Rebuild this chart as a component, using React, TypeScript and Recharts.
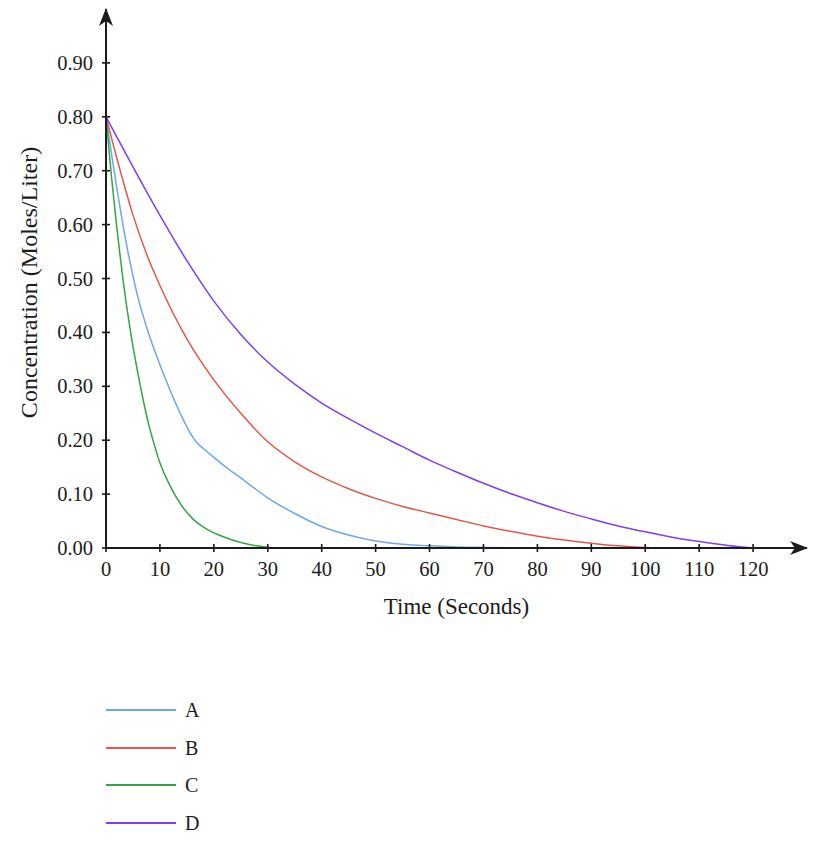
import React from 'react';
import { LineChart, Line, XAxis, YAxis, Legend } from 'recharts';

// [time (s), concentration (mol/L)]
const seriesA: [number, number][] = [
  [0, 0.8], [1, 0.733], [2, 0.668], [3, 0.608], [4, 0.553], [5, 0.505], [6, 0.462],
  [7, 0.427], [8, 0.395], [10, 0.34], [12, 0.29], [14, 0.245], [16, 0.207],
  [17, 0.194], [18, 0.185], [20, 0.168], [22.5, 0.148], [25, 0.13], [27.5, 0.111],
  [30, 0.093], [35, 0.064], [40, 0.04], [45, 0.024], [50, 0.013], [55, 0.007],
  [60, 0.004], [65, 0.002], [70, 0.001], [78, 0],
];
const seriesB: [number, number][] = [
  [0, 0.8], [2.5, 0.705], [5, 0.618], [7.5, 0.546], [10, 0.487], [15, 0.388],
  [20, 0.312], [25, 0.25], [30, 0.197], [35, 0.16], [40, 0.132], [45, 0.11],
  [50, 0.092], [55, 0.077], [60, 0.065], [65, 0.053], [70, 0.041], [75, 0.031],
  [80, 0.022], [85, 0.015], [90, 0.009], [95, 0.004], [100, 0.001], [103, 0],
];
const seriesC: [number, number][] = [
  [0, 0.8], [1, 0.69], [2, 0.595], [3, 0.51], [4, 0.437], [5, 0.374], [6, 0.32],
  [7, 0.27], [8, 0.226], [9, 0.19], [10, 0.158], [12, 0.113], [14, 0.079],
  [16, 0.055], [18, 0.039], [20, 0.028], [22, 0.02], [24, 0.013], [26, 0.008],
  [28, 0.004], [30, 0.0015], [32, 0],
];
const seriesD: [number, number][] = [
  [0, 0.8], [5, 0.707], [10, 0.617], [15, 0.533], [20, 0.458], [25, 0.396],
  [30, 0.345], [35, 0.304], [40, 0.269], [45, 0.24], [50, 0.213], [55, 0.188],
  [60, 0.163], [65, 0.141], [70, 0.12], [75, 0.101], [80, 0.084], [85, 0.068],
  [90, 0.054], [95, 0.041], [100, 0.03], [105, 0.02], [110, 0.012], [115, 0.005],
  [120, 0],
];

const xTicks = [0, 10, 20, 30, 40, 50, 60, 70, 80, 90, 100, 110, 120];
const yTicks = [0, 0.1, 0.2, 0.3, 0.4, 0.5, 0.6, 0.7, 0.8, 0.9];

const series = [
  { name: 'A', color: '#6ea8e6', points: seriesA },
  { name: 'B', color: '#e4574b', points: seriesB },
  { name: 'C', color: '#35a447', points: seriesC },
  { name: 'D', color: '#7f3ff0', points: seriesD },
];

const ink = '#1c1c1c';
const font = '"Liberation Serif", serif';

const toRows = (pts: [number, number][]) => pts.map(([t, c]) => ({ t, c }));

function XTick({ x, y, payload }: any) {
  return (
    <g>
      <line x1={x} x2={x} y1={y - 4} y2={y + 4} stroke={ink} strokeWidth={1.6} />
      <text x={x} y={y + 21} textAnchor="middle" dominantBaseline="central" fill={ink} fontSize={20.5} fontFamily={font}>
        {payload.value}
      </text>
    </g>
  );
}

function YTick({ x, y, payload }: any) {
  return (
    <g>
      <line x1={x - 4} x2={x + 4} y1={y} y2={y} stroke={ink} strokeWidth={1.6} />
      <text x={x - 13} y={y} textAnchor="end" dominantBaseline="central" fill={ink} fontSize={20.5} fontFamily={font}>
        {payload.value.toFixed(2)}
      </text>
    </g>
  );
}

function LegendBox({ payload }: any) {
  return (
    <div style={{ fontFamily: font, fontSize: 20, color: ink }}>
      {(payload || []).map((p: any) => (
        <div key={p.value} style={{ display: 'flex', alignItems: 'center', height: 37.7 }}>
          <svg width={70} height={4} style={{ display: 'block' }}>
            <line x1={0} x2={70} y1={2} y2={2} stroke={p.color} strokeWidth={2} />
          </svg>
          <span style={{ marginLeft: 9, lineHeight: '20px' }}>{p.value}</span>
        </div>
      ))}
    </div>
  );
}

export default function App() {
  return (
    <div style={{ width: 810, height: 835, fontFamily: font }}>
      <LineChart width={810} height={835} margin={{ top: 1, right: 11, bottom: 225, left: 0 }}>
        <defs>
          <marker id="axisArrow" markerUnits="userSpaceOnUse" markerWidth={20} markerHeight={16}
            refX={17} refY={7} orient="auto-start-reverse" viewBox="0 0 20 14">
            <path d="M0,0 L18,7 L0,14 L5,7 Z" fill={ink} />
          </marker>
        </defs>
        <XAxis
          type="number"
          dataKey="t"
          domain={[0, 130]}
          ticks={xTicks}
          interval={0}
          allowDataOverflow
          height={70}
          tickSize={0}
          tickMargin={0}
          tickLine={false}
          tick={<XTick />}
          axisLine={{ stroke: ink, strokeWidth: 2, markerEnd: 'url(#axisArrow)' }}
          label={{
            content: ({ viewBox }: any) => (
              <text x={viewBox.x + viewBox.width / 2} y={viewBox.y + 58} textAnchor="middle"
                dominantBaseline="central" fill={ink} fontSize={23} fontFamily={font}>
                Time (Seconds)
              </text>
            ),
          }}
        />
        <YAxis
          type="number"
          domain={[0, 1]}
          ticks={yTicks}
          interval={0}
          allowDataOverflow
          width={98}
          tickSize={0}
          tickMargin={0}
          tickLine={false}
          tick={<YTick />}
          axisLine={{ stroke: ink, strokeWidth: 2, markerStart: 'url(#axisArrow)' }}
          label={{
            content: ({ viewBox }: any) => {
              const cx = viewBox.x + 20.5;
              const cy = viewBox.y + viewBox.height / 2 + 4;
              return (
                <text x={cx} y={cy} transform={`rotate(-90 ${cx} ${cy})`} textAnchor="middle"
                  dominantBaseline="central" fill={ink} fontSize={24} fontFamily={font}>
                  Concentration (Moles/Liter)
                </text>
              );
            },
          }}
        />
        {series.map((s) => (
          <Line
            key={s.name}
            name={s.name}
            data={toRows(s.points)}
            dataKey="c"
            type="monotone"
            stroke={s.color}
            strokeWidth={1.5}
            dot={false}
            activeDot={false}
            isAnimationActive={false}
          />
        ))}
        <Legend
          layout="vertical"
          align="center"
          verticalAlign="middle"
          content={<LegendBox />}
          wrapperStyle={{ top: 683, left: 98, width: 200, height: 160 }}
        />
      </LineChart>
    </div>
  );
}
